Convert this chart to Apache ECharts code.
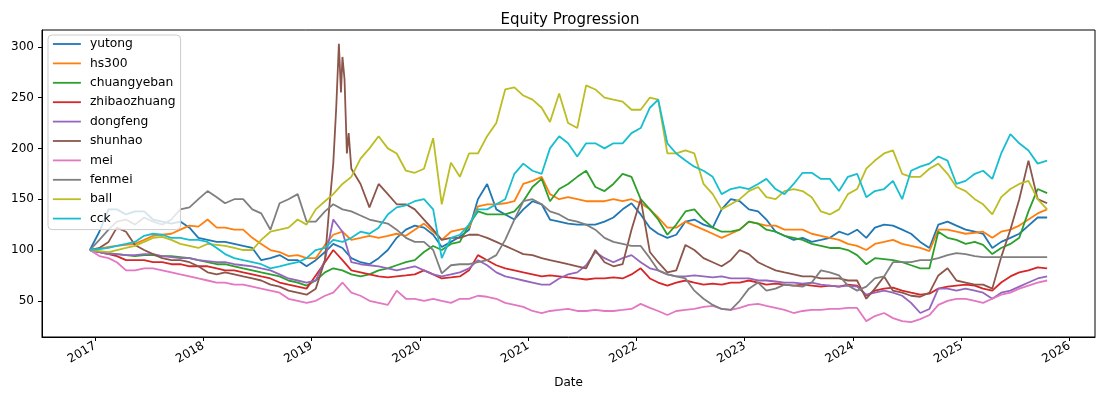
<!DOCTYPE html>
<html><head><meta charset="utf-8">
<script src="https://cdn.jsdelivr.net/npm/echarts@6/dist/echarts.min.js"></script>
<style>html,body{margin:0;padding:0;background:#fff}#c{width:1108px;height:396px}</style>
</head><body><div id="c"></div>
<script>
// monthly sample dates (first = series start, last = series end)
const dates = ['2016-12-14'];
for (let y = 2017; y <= 2025; y++) {
  for (let m = 1; m <= 12; m++) {
    if (y === 2025 && m === 10) { dates.push('2025-10-17'); break; }
    dates.push(y + '-' + String(m).padStart(2, '0') + '-15');
  }
}
const seriesNames = ['yutong','hs300','chuangyeban','zhibaozhuang','dongfeng','shunhao','mei','fenmei','ball','cck'];
const colors = ['#1f77b4','#ff7f0e','#2ca02c','#d62728','#9467bd','#8c564b','#e377c2','#7f7f7f','#bcbd22','#17becf'];
const yearTicks = [2017,2018,2019,2020,2021,2022,2023,2024,2025,2026];
const yTicks = [50,100,150,200,250,300];

const yutong = [100,
 118,140,140,135,138,138,130,128,126,128,122,112,
 110,108,108,106,104,102,90,92,95,90,90,84,
 90,98,106,102,92,88,86,92,100,112,120,124,
 122,115,103,108,113,120,150,165,140,135,130,140,
 148,145,130,128,126,125,125,125,128,132,140,146,
 135,122,116,112,115,128,130,125,122,140,150,148,
 140,138,130,118,114,110,112,108,110,112,118,115,
 120,112,122,125,124,120,116,108,102,125,128,124,
 120,118,116,102,108,112,116,124,132,132];
const hs300 = [100,
 101,103,104,105,106,110,114,115,116,120,124,123,
 130,122,122,120,120,112,106,100,98,94,95,92,
 92,105,115,118,110,112,114,112,114,116,114,120,
 126,118,110,118,120,122,143,145,145,146,148,165,
 168,172,155,150,152,150,148,148,148,150,148,150,
 146,140,132,122,122,128,124,120,116,112,116,120,
 128,126,124,124,120,120,120,116,114,112,110,106,
 104,100,106,108,110,106,104,102,99,120,120,118,
 116,117,118,112,118,120,124,130,136,140];
const chuangyeban = [100,
 98,97,96,95,94,95,95,94,94,93,92,90,
 88,86,86,84,82,80,78,76,74,70,68,65,
 70,78,82,80,76,74,76,80,82,85,88,90,
 98,104,100,106,108,125,138,135,135,135,138,148,
 162,170,148,160,165,172,178,162,158,165,175,172,
 150,140,130,115,125,138,140,130,122,118,118,120,
 128,126,120,118,114,112,110,106,104,102,102,100,
 95,86,92,91,90,88,85,82,82,118,112,110,
 106,108,105,96,102,106,112,138,160,156];
const zhibaozhuang = [100,
 98,96,94,90,90,90,88,88,86,86,84,84,
 84,82,80,80,78,76,74,72,68,66,64,62,
 75,88,100,90,80,78,76,74,73,74,75,76,
 80,76,72,73,74,80,95,90,85,82,80,78,
 76,74,75,74,73,72,71,72,72,73,72,76,
 82,72,68,65,68,70,68,66,67,66,68,68,
 70,68,66,67,66,65,66,65,64,65,64,66,
 65,55,60,62,63,60,58,56,57,62,64,65,
 66,65,62,60,68,74,78,80,83,82];
const dongfeng = [100,
 98,96,96,95,95,96,96,94,93,92,92,90,
 89,88,88,86,85,84,82,80,76,72,70,68,
 70,90,130,118,88,86,85,84,82,80,82,84,
 80,76,74,76,78,82,90,85,78,74,72,70,
 68,66,66,72,76,78,85,98,92,88,92,95,
 88,82,80,76,74,74,75,74,73,74,72,72,
 72,70,70,69,68,68,67,68,66,65,64,65,
 64,56,58,60,58,55,48,38,42,62,62,60,
 62,60,58,52,58,60,64,68,72,74];
const shunhao = [100,
 102,108,122,118,105,100,96,92,90,90,88,84,
 78,76,78,76,74,72,70,66,64,60,58,56,
 62,90,185,290,180,165,142,165,155,145,145,140,
 130,120,110,112,112,115,115,112,108,104,100,96,
 95,92,90,88,86,84,82,100,88,84,86,120,
 150,98,88,78,80,105,100,92,88,84,90,100,
 96,88,84,80,78,76,74,74,72,72,72,70,
 70,52,62,74,60,58,55,54,58,75,82,70,
 68,66,66,62,93,120,150,188,150,146];
// extra readings around the spring-2019 spike
const shunhaoSpikeDates = ['2019-03-01','2019-03-25','2019-04-03','2019-04-10','2019-04-22','2019-04-30','2019-05-06'];
const shunhaoSpikeValues = [140,240,303,255,268,195,215];
const mei = [100,
 94,92,88,80,80,82,82,80,78,76,74,72,
 70,68,68,66,66,64,62,60,58,52,50,48,
 50,55,58,68,58,55,50,48,46,60,52,52,
 50,52,50,48,52,52,55,54,52,48,46,44,
 40,38,40,41,42,40,40,41,40,40,41,42,
 47,43,40,36,40,41,42,44,45,42,41,43,
 46,47,45,43,41,38,40,41,41,42,42,43,
 43,30,35,38,33,30,29,32,36,46,50,52,
 52,50,48,52,56,58,62,65,68,70];
const fenmei = [100,
 110,120,128,130,125,132,128,125,130,140,142,150,
 158,152,146,150,150,140,136,120,146,150,155,128,
 128,138,145,140,138,134,130,128,126,120,112,108,
 108,100,77,85,86,86,88,90,95,110,130,148,
 150,145,138,135,130,128,125,120,112,108,106,104,
 104,92,80,76,74,72,60,52,46,42,41,50,
 62,68,60,62,66,65,64,68,80,78,75,65,
 60,64,72,74,88,88,88,90,90,92,95,97,
 96,94,93,93,93,93,93,93,93,93];
const ball = [100,
 99,98,100,102,104,108,112,113,110,106,104,102,
 106,105,104,102,100,100,110,118,120,122,130,125,
 140,148,155,165,172,190,200,212,200,195,178,176,
 180,210,145,186,172,195,195,212,225,258,260,252,
 248,240,226,254,225,220,262,258,250,248,246,238,
 238,250,248,195,195,198,195,165,155,140,145,150,
 158,162,152,150,158,160,158,152,138,135,140,155,
 160,180,188,195,198,175,172,172,180,185,175,162,
 158,150,145,135,152,160,165,168,150,140];
const cck = [100,
 101,102,104,106,108,114,116,115,112,112,110,110,
 108,102,96,92,90,88,86,82,84,86,88,92,
 100,102,110,108,112,118,116,122,135,142,144,148,
 150,140,92,112,115,125,140,140,145,150,175,185,
 178,175,200,212,205,192,205,205,200,205,205,215,
 220,240,248,205,195,188,182,178,172,155,160,162,
 160,165,170,160,155,165,176,176,170,170,158,172,
 175,152,158,160,168,150,178,182,185,192,188,165,
 168,175,178,170,195,214,205,198,185,188];

const valueArrays = [yutong,hs300,chuangyeban,zhibaozhuang,dongfeng,shunhao,mei,fenmei,ball,cck];

function toTime(s){ const p = s.split('-').map(Number); return Date.UTC(p[0], p[1]-1, p[2]); }

const seriesData = valueArrays.map((arr, k) => {
  let pts = dates.map((d, i) => [toTime(d), arr[i]]);
  if (seriesNames[k] === 'shunhao') {
    shunhaoSpikeDates.forEach((d, i) => pts.push([toTime(d), shunhaoSpikeValues[i]]));
    pts.sort((a, b) => a[0] - b[0]);
  }
  return pts;
});

const startT = toTime(dates[0]), endT = toTime(dates[dates.length-1]);
const pad = (endT - startT) * 0.05;
const yearTickTimes = yearTicks.map(y => Date.UTC(y,0,1));
const font = 'DejaVu Sans';

const chart = echarts.init(document.getElementById('c'), null, {renderer:'canvas'});
chart.setOption({
  animation: false,
  backgroundColor: '#fff',
  title: {
    text: 'Equity Progression', left: 565, top: 8, textAlign: 'center',
    textStyle: {fontFamily: font, fontSize: 15, fontWeight: 'normal', color: '#000'}
  },
  legend: {
    data: seriesNames, orient: 'vertical', left: 48, top: 35,
    padding: [3, 5, 5, 4], itemWidth: 28, itemHeight: 14, itemGap: 7.4,
    backgroundColor: 'rgba(255,255,255,0.8)', borderColor: '#cccccc', borderWidth: 1, borderRadius: 4,
    itemStyle: {opacity: 0},
    lineStyle: {width: 1.8},
    textStyle: {fontFamily: font, fontSize: 12.3, color: '#000', padding: [0, 0, 0, 4]}
  },
  grid: {left: 42, right: 13, top: 30, bottom: 59, show: true, borderColor: '#000', borderWidth: 1, containLabel: false},
  xAxis: {
    type: 'value', min: startT - pad, max: endT + pad,
    axisLine: {lineStyle: {color: '#000', width: 1}},
    axisTick: {show: true, length: 4, lineStyle: {color: '#000'}, customValues: yearTickTimes},
    axisLabel: {customValues: yearTickTimes, rotate: 30, margin: 8,
      formatter: v => String(new Date(v).getUTCFullYear()), color: '#000', fontFamily: font, fontSize: 12},
    splitLine: {show: false},
    name: 'Date', nameLocation: 'middle', nameGap: 40,
    nameTextStyle: {fontFamily: font, fontSize: 12, color: '#000'}
  },
  yAxis: {
    type: 'value', min: 14.4, max: 316.5,
    axisLine: {show: true, lineStyle: {color: '#000', width: 1}},
    axisTick: {show: true, length: 4, lineStyle: {color: '#000'}, customValues: yTicks},
    axisLabel: {customValues: yTicks, margin: 8, color: '#000', fontFamily: font, fontSize: 12},
    splitLine: {show: false}
  },
  series: seriesNames.map((n, k) => ({
    name: n, type: 'line', data: seriesData[k], symbol: 'none', showSymbol: false,
    color: colors[k], lineStyle: {width: 1.8, color: colors[k]}
  }))
});
</script></body></html>
